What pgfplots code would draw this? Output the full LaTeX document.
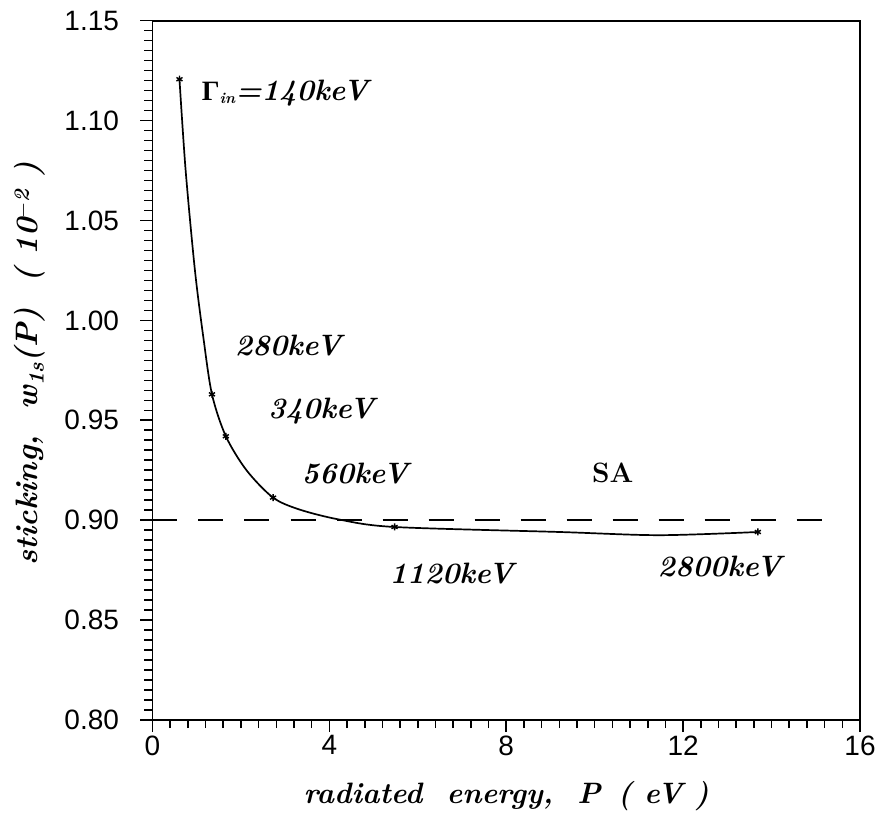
\documentclass[border=0pt]{standalone}
\usepackage{fontspec}
\usepackage{pgfplots}
\pgfplotsset{compat=1.18}
\newfontfamily\ticksf{Liberation Sans}
\newfontfamily\greekfont{Liberation Serif}
\begin{document}
\begin{tikzpicture}
\useasboundingbox (-152.5pt,-96pt) rectangle (728.5pt,720pt);
\begin{axis}[
  anchor=south west, at={(0pt,0pt)},
  scale only axis,
  width=707.5pt, height=699.3pt,
  xmin=0, xmax=16, ymin=0.80, ymax=1.15,
  xtick={0,4,8,12,16},
  ytick={0.80,0.85,0.90,0.95,1.00,1.05,1.10,1.15},
  yticklabels={0.80,0.85,0.90,0.95,1.00,1.05,1.10,1.15},
  minor x tick num=9, minor y tick num=9,
  tick pos=left, tick align=outside,
  major tick length=12pt, minor tick length=8pt,
  every tick/.style={black, line width=1.6pt},
  axis line style={line width=1.8pt},
  /pgf/number format/assume math mode=true,
  ticklabel style={font=\ticksf\fontsize{28}{28}\selectfont},
  every y tick label/.append style={anchor=east, xshift=-18pt},
  xlabel={\bfseries\itshape radiated\ \ energy,\ \ P\ \,( eV\ )},
  ylabel={\bfseries\itshape sticking,\ \ w\textsubscript{1s}(P)\ \ (\ 10\textsuperscript{$-$2}\ )},
  xlabel style={font=\fontsize{29.5}{29.5}\selectfont, at={(axis description cs:0.5,0)}, anchor=base, yshift=-83pt},
  ylabel style={font=\fontsize{31}{31}\selectfont, at={(axis description cs:-0.173,0.51)}, anchor=center},
  clip=false,
]
\addplot[black, line width=1.8pt, dash pattern=on 25pt off 21pt] coordinates {(0,0.9) (15.45,0.9)};
\addplot[black, line width=1.7pt, smooth, tension=0.5] coordinates {
(0.61,1.1207) (0.749,1.0752) (0.959,1.0252) (1.15,0.9915) (1.345,0.963)
(1.659,0.942) (2.126,0.925) (2.727,0.9113) (3.33,0.9053) (4.23,0.9003)
(5.474,0.8966) (9.2,0.8941) (11.46,0.8925) (13.69,0.8941)
};
\addplot[only marks, black, mark=asterisk, mark size=3.5pt, line width=1.4pt] coordinates {
(0.61,1.1207) (1.345,0.963) (1.659,0.942) (2.727,0.9113) (5.474,0.8966) (13.69,0.8941)
};
\begin{scope}[every node/.style={anchor=base west, inner sep=0pt, font=\bfseries\itshape\fontsize{29.5}{29.5}\selectfont}]
\node at (axis cs:1.11,1.110) {{\greekfont\upshape\bfseries\fontsize{28}{28}\selectfont Γ}{\fontsize{22}{22}\selectfont\textsubscript{in}}=140keV};
\node at (axis cs:1.86,0.9826) {280keV};
\node at (axis cs:2.61,0.951) {340keV};
\node at (axis cs:3.37,0.9184) {560keV};
\node at (axis cs:5.36,0.8684) {1120keV};
\node at (axis cs:11.42,0.8716) {2800keV};
\node[font=\bfseries\upshape\fontsize{28}{28}\selectfont] at (axis cs:9.94,0.9189) {SA};
\end{scope}
\end{axis}
\end{tikzpicture}
\end{document}
